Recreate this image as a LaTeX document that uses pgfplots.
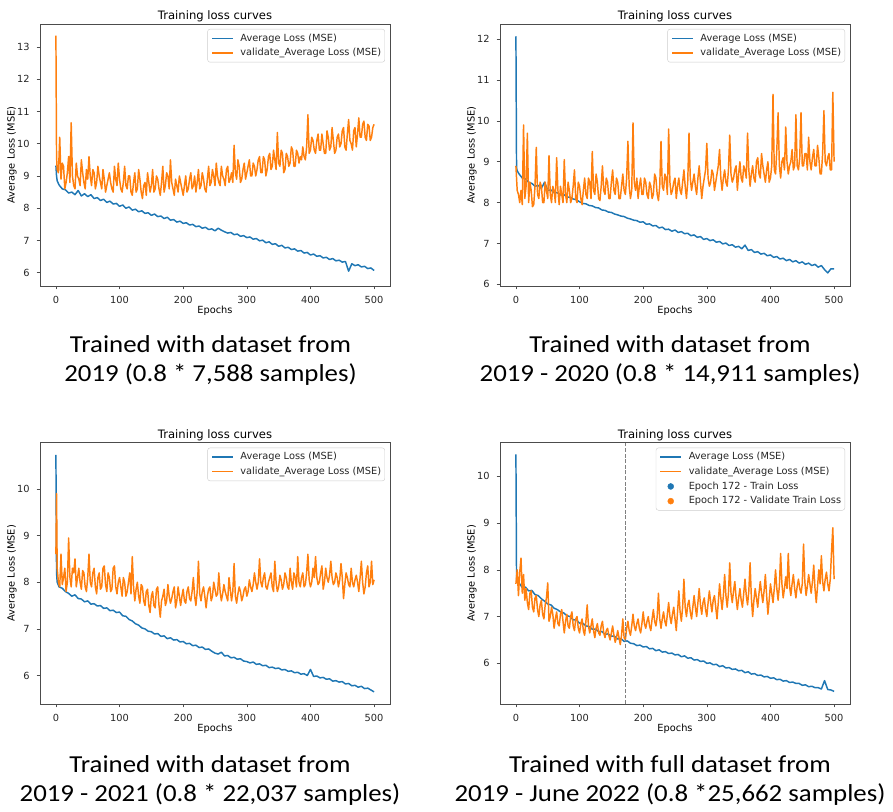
\documentclass[border=0pt]{standalone}
\usepackage{pgfplots}
\pgfplotsset{compat=1.18}
\usepackage{fontspec}
\setmainfont{DejaVu Sans}
\newfontfamily\capfont{Carlito}
\definecolor{tabblue}{HTML}{1F77B4}
\definecolor{taborange}{HTML}{FF7F0E}
\newcommand\ticksize{\fontsize{9.8}{11.8}\selectfont}
\newcommand\titlesize{\fontsize{11.6}{13.9}\selectfont}
\newcommand\capsize{\fontsize{24.4}{29}\selectfont}
\tikzset{capnode/.style={anchor=base, font=\capfont\capsize, inner sep=0pt, xscale=1.1}}
\pgfplotsset{
 lossaxis/.style={
  scale only axis, width=350pt,
  xmin=-25, xmax=525, xtick={0,100,200,300,400,500},
  axis line style={black!70, line width=0.7pt},
  tick style={black!70, line width=0.6pt},
  tick align=outside, major tick length=3.4pt,
  tick pos=left,
  tick label style={font=\ticksize, text=black!85, inner sep=0pt},
  /pgf/number format/assume math mode=true,
  xticklabel style={yshift=-6.8pt},
  yticklabel style={xshift=-6.8pt},
  every axis title/.style={at={(axis description cs:0.5,1)}, anchor=base, yshift=4.7pt, font=\titlesize, inner sep=0pt},
  xlabel style={at={(axis description cs:0.5,0)}, anchor=base, yshift=-27.3pt, font=\ticksize, inner sep=0pt},
  ylabel style={at={(axis description cs:-0.0726,0.5)}, anchor=base, font=\ticksize, inner sep=0pt},
  title={Training loss curves}, xlabel={Epochs}, ylabel={Average Loss (MSE)},
  legend cell align=left,
  legend style={at={(axis description cs:1,1)}, anchor=north east, xshift=-5pt, yshift=-5pt, draw=black!20, rounded corners=2.5pt, fill=white, font=\ticksize, text=black!85, inner xsep=3.7pt, inner ysep=4.4pt, row sep=5.2pt, column sep=7pt, nodes={inner sep=0pt, text height=7.5pt, text depth=2pt}},
  legend image code/.code={\draw[mark repeat=2, mark phase=2, ##1] plot coordinates {(0pt,0pt) (10.3pt,0pt) (20.6pt,0pt)};},
  trainline/.style={tabblue, line width=1.47pt, line join=round},
  valline/.style={taborange, line width=1.47pt, line join=round},
 },
}
\begin{document}
\begin{tikzpicture}
\useasboundingbox (0pt,0pt) rectangle (893pt,811pt);
% ---------------- Plot 1 ----------------
\begin{axis}[lossaxis, at={(40pt,525pt)}, anchor=south west, height=262pt,
  ymin=5.59, ymax=13.71, ytick={6,7,8,9,10,11,12,13}]
\addplot[trainline] coordinates {(0,9.32)(1,9.0)(2,8.85)(5,8.72)(10,8.6)(15,8.57)(20,8.47)(25,8.5)(30,8.42)(35,8.55)(40,8.38)(45,8.45)(50,8.36)(55,8.42)(60,8.3)(65,8.33)(70,8.24)(75,8.28)(80,8.18)(85,8.22)(90,8.13)(95,8.15)(100,8.06)(105,8.1)(110,8.0)(115,8.04)(120,7.94)(125,7.97)(130,7.89)(135,7.92)(140,7.84)(145,7.86)(150,7.78)(155,7.82)(160,7.74)(165,7.76)(170,7.68)(175,7.72)(180,7.63)(185,7.65)(190,7.57)(195,7.6)(200,7.53)(205,7.55)(210,7.48)(215,7.5)(220,7.43)(225,7.45)(230,7.38)(235,7.41)(240,7.34)(245,7.36)(250,7.3)(255,7.38)(260,7.32)(265,7.27)(270,7.23)(275,7.25)(280,7.18)(285,7.2)(290,7.13)(295,7.15)(300,7.09)(305,7.11)(310,7.04)(315,7.06)(320,6.99)(325,7.01)(330,6.93)(335,6.96)(340,6.88)(345,6.9)(350,6.82)(355,6.85)(360,6.77)(365,6.79)(370,6.72)(375,6.74)(380,6.67)(385,6.69)(390,6.61)(395,6.63)(400,6.55)(405,6.58)(410,6.51)(415,6.53)(420,6.46)(425,6.48)(430,6.41)(435,6.44)(440,6.37)(445,6.39)(450,6.33)(455,6.35)(460,6.05)(465,6.28)(470,6.22)(475,6.25)(480,6.18)(485,6.2)(490,6.13)(495,6.15)(500,6.07)};
\addlegendentry{Average Loss (MSE)}
\addplot[valline] coordinates {(0,13.35)(1,9.6)(2,9.2)(4,9.1)(6,10.2)(8,8.9)(10,9.4)(12,9.3)(14,8.6)(16,8.8)(18,9.1)(20,9.6)(22,8.8)(24,10.65)(26,9.0)(28,8.7)(30,8.6)(32,9.4)(34,9.0)(36,8.9)(38,8.7)(40,9.5)(42,9.1)(44,8.8)(46,8.6)(48,9.2)(50,8.9)(52,9.6)(54,9.0)(56,8.7)(58,9.2)(60,9.1)(62,8.6)(64,8.8)(66,9.3)(68,9.0)(70,8.8)(72,8.6)(74,9.2)(76,8.9)(78,8.5)(80,8.7)(82,8.9)(84,9.1)(86,8.8)(88,8.6)(90,8.5)(92,9.3)(94,8.9)(96,8.7)(98,9.4)(100,8.9)(102,8.6)(104,8.5)(106,8.8)(108,9.3)(110,8.7)(112,8.6)(114,9.0)(116,9.0)(118,8.5)(120,8.4)(122,8.8)(124,9.1)(126,8.5)(128,8.6)(130,9.2)(132,8.9)(134,8.5)(136,8.3)(138,8.7)(140,8.8)(142,8.4)(144,9.1)(146,8.8)(148,8.5)(150,8.7)(152,9.2)(154,8.5)(156,8.6)(158,9.0)(160,8.9)(162,8.6)(164,8.4)(166,8.8)(168,9.3)(170,8.5)(172,8.7)(174,9.1)(176,9.0)(178,8.6)(180,9.5)(182,8.8)(184,8.6)(186,8.4)(188,8.9)(190,8.7)(192,8.5)(194,9.0)(196,8.8)(198,8.6)(200,8.4)(202,8.7)(204,9.0)(206,8.5)(208,8.6)(210,8.9)(212,9.1)(214,8.6)(216,8.7)(218,9.0)(220,8.5)(222,8.8)(224,9.2)(226,8.6)(228,8.7)(230,9.1)(232,8.9)(234,8.6)(236,8.5)(238,8.9)(240,9.3)(242,8.7)(244,8.8)(246,9.2)(248,9.0)(250,8.7)(252,9.4)(254,9.0)(256,8.8)(258,8.7)(260,9.3)(262,9.0)(264,8.9)(266,8.7)(268,9.2)(270,9.3)(272,8.8)(274,8.9)(276,9.1)(278,8.8)(280,9.95)(282,9.1)(284,8.9)(286,9.5)(288,9.3)(290,8.8)(292,8.9)(294,9.2)(296,9.4)(298,8.9)(300,9.1)(302,9.3)(304,9.5)(306,9.0)(308,9.0)(310,9.4)(312,9.3)(314,9.0)(316,9.2)(318,9.5)(320,9.6)(322,9.1)(324,9.1)(326,9.6)(328,9.5)(330,9.0)(332,9.2)(334,9.6)(336,9.7)(338,9.2)(340,9.3)(342,9.8)(344,9.5)(346,9.2)(348,10.35)(350,9.4)(352,9.3)(354,9.8)(356,9.7)(358,9.1)(360,9.2)(362,9.7)(364,9.6)(366,9.3)(368,9.4)(370,9.9)(372,9.8)(374,9.3)(376,9.3)(378,9.8)(380,9.7)(382,9.4)(384,9.6)(386,9.5)(388,9.9)(390,9.6)(392,9.5)(394,9.9)(396,10.9)(398,9.7)(400,9.8)(402,10.2)(404,10.1)(406,9.8)(408,9.7)(410,10.1)(412,10.3)(414,9.8)(416,9.8)(418,10.3)(420,10.0)(422,9.7)(424,9.7)(426,10.4)(428,10.2)(430,9.8)(432,9.9)(434,10.5)(436,10.1)(438,9.7)(440,9.8)(442,10.2)(444,10.3)(446,9.9)(448,10.0)(450,10.4)(452,10.5)(454,9.9)(456,9.8)(458,10.3)(460,10.75)(462,10.1)(464,10.0)(466,9.8)(468,10.4)(470,10.5)(472,9.9)(474,10.3)(476,10.8)(478,10.2)(480,10.2)(482,10.6)(484,10.7)(486,10.2)(488,10.1)(490,10.6)(492,10.55)(494,10.1)(496,10.2)(498,10.5)(500,10.6)};
\addlegendentry{validate\_Average Loss (MSE)}
\end{axis}
% ---------------- Plot 2 ----------------
\begin{axis}[lossaxis, at={(500pt,525pt)}, anchor=south west, height=262pt,
  ymin=5.96, ymax=12.37, ytick={6,7,8,9,10,11,12}]
\addplot[trainline] coordinates {(0,12.07)(1,8.85)(2,8.78)(5,8.7)(10,8.6)(15,8.58)(20,8.5)(25,8.47)(30,8.4)(35,8.42)(40,8.35)(45,8.5)(50,8.3)(55,8.31)(60,8.25)(65,8.24)(70,8.19)(75,8.2)(80,8.14)(85,8.13)(90,8.09)(95,8.07)(100,8.02)(105,7.98)(110,7.97)(115,7.93)(120,7.92)(125,7.88)(130,7.87)(135,7.82)(140,7.81)(145,7.77)(150,7.76)(155,7.72)(160,7.7)(165,7.67)(170,7.66)(175,7.62)(180,7.6)(185,7.57)(190,7.56)(195,7.52)(200,7.53)(205,7.47)(210,7.48)(215,7.43)(220,7.44)(225,7.38)(230,7.4)(235,7.34)(240,7.35)(245,7.3)(250,7.33)(255,7.27)(260,7.29)(265,7.24)(270,7.25)(275,7.19)(280,7.21)(285,7.15)(290,7.17)(295,7.1)(300,7.12)(305,7.07)(310,7.09)(315,7.03)(320,7.05)(325,6.99)(330,7.01)(335,6.95)(340,6.97)(345,6.91)(350,6.93)(355,6.87)(360,6.96)(365,6.83)(370,6.85)(375,6.78)(380,6.8)(385,6.74)(390,6.76)(395,6.7)(400,6.72)(405,6.66)(410,6.68)(415,6.62)(420,6.64)(425,6.58)(430,6.61)(435,6.55)(440,6.58)(445,6.52)(450,6.55)(455,6.49)(460,6.52)(465,6.46)(470,6.49)(475,6.42)(480,6.46)(485,6.36)(490,6.28)(495,6.38)(500,6.38)};
\addlegendentry{Average Loss (MSE)}
\addplot[valline] coordinates {(0,8.9)(1,8.6)(2,8.3)(4,8.2)(6,8.0)(8,8.3)(10,7.95)(12,9.9)(14,8.1)(16,8.4)(18,9.7)(20,8.0)(22,8.5)(24,8.3)(26,7.9)(28,7.95)(30,8.4)(32,9.35)(34,8.2)(36,8.1)(38,8.5)(40,8.4)(42,8.0)(44,8.0)(46,8.5)(48,8.3)(50,8.1)(52,9.15)(54,8.2)(56,8.0)(58,8.4)(60,8.3)(62,8.0)(64,9.1)(66,8.3)(68,7.95)(70,8.4)(72,8.2)(74,8.0)(76,9.05)(78,8.2)(80,8.0)(82,8.5)(84,8.3)(86,8.0)(88,8.1)(90,8.4)(92,8.8)(94,8.1)(96,8.0)(98,8.5)(100,8.4)(102,8.1)(104,7.95)(106,8.3)(108,8.6)(110,8.2)(112,8.1)(114,8.6)(116,8.5)(118,8.1)(120,9.25)(122,8.3)(124,8.2)(126,8.7)(128,8.5)(130,8.1)(132,8.05)(134,8.4)(136,8.9)(138,8.3)(140,8.2)(142,8.6)(144,8.5)(146,8.1)(148,8.1)(150,8.5)(152,8.8)(154,8.3)(156,8.2)(158,8.6)(160,8.5)(162,8.1)(164,8.1)(166,8.4)(168,8.7)(170,8.3)(172,8.2)(174,8.6)(176,9.5)(178,8.4)(180,8.1)(182,8.3)(184,9.95)(186,8.5)(188,8.3)(190,8.6)(192,8.1)(194,8.4)(196,8.6)(198,8.2)(200,8.2)(202,8.6)(204,8.5)(206,8.2)(208,8.1)(210,8.5)(212,8.4)(214,8.1)(216,8.2)(218,8.7)(220,8.6)(222,8.2)(224,8.05)(226,8.4)(228,9.5)(230,8.4)(232,8.3)(234,8.7)(236,8.6)(238,8.2)(240,9.8)(242,8.5)(244,8.2)(246,8.3)(248,8.5)(250,8.6)(252,8.1)(254,8.4)(256,8.6)(258,8.3)(260,8.2)(262,8.5)(264,8.8)(266,8.4)(268,8.1)(270,8.5)(272,9.7)(274,8.6)(276,8.3)(278,8.5)(280,8.7)(282,8.4)(284,8.2)(286,8.6)(288,8.9)(290,8.5)(292,8.1)(294,8.4)(296,8.6)(298,8.8)(300,9.45)(302,8.6)(304,8.4)(306,8.5)(308,8.8)(310,8.7)(312,8.3)(314,8.5)(316,8.7)(318,8.9)(320,9.3)(322,8.6)(324,8.3)(326,8.6)(328,8.8)(330,8.5)(332,8.4)(334,8.8)(336,9.65)(338,8.7)(340,8.5)(342,8.6)(344,8.8)(346,8.9)(348,8.3)(350,8.7)(352,9.0)(354,8.6)(356,8.5)(358,8.9)(360,8.8)(362,8.6)(364,9.7)(366,8.8)(368,8.4)(370,8.7)(372,8.9)(374,8.6)(376,8.5)(378,9.0)(380,9.1)(382,8.7)(384,8.6)(386,9.2)(388,8.9)(390,8.7)(392,8.5)(394,8.8)(396,9.0)(398,8.5)(400,8.6)(402,8.9)(404,10.65)(406,8.8)(408,8.7)(410,9.3)(412,10.2)(414,8.9)(416,8.6)(418,9.0)(420,9.1)(422,8.8)(424,9.85)(426,9.0)(428,8.7)(430,8.9)(432,9.0)(434,9.3)(436,8.8)(438,8.9)(440,10.15)(442,8.9)(444,8.8)(446,9.1)(448,10.2)(450,8.9)(452,8.9)(454,9.2)(456,9.2)(458,8.8)(460,9.6)(462,9.0)(464,8.8)(466,9.1)(468,9.3)(470,8.9)(472,8.9)(474,9.4)(476,9.1)(478,8.7)(480,8.7)(482,9.2)(484,10.25)(486,9.0)(488,8.9)(490,9.1)(492,9.2)(494,8.8)(496,8.8)(498,10.7)(500,9.0)};
\addlegendentry{validate\_Average Loss (MSE)}
\end{axis}
% ---------------- Plot 3 ----------------
\begin{axis}[lossaxis, at={(40pt,107pt)}, anchor=south west, height=261.3pt,
  ymin=5.39, ymax=10.99, ytick={6,7,8,9,10}]
\addplot[trainline] coordinates {(0,10.73)(1,8.2)(2,8.0)(5,7.9)(10,7.87)(15,7.8)(20,7.76)(25,7.7)(30,7.73)(35,7.65)(40,7.64)(45,7.58)(50,7.6)(55,7.53)(60,7.54)(65,7.49)(70,7.5)(75,7.44)(80,7.45)(85,7.39)(90,7.4)(95,7.35)(100,7.36)(105,7.28)(110,7.27)(115,7.2)(120,7.17)(125,7.11)(130,7.08)(135,7.02)(140,7.0)(145,6.95)(150,6.94)(155,6.89)(160,6.9)(165,6.84)(170,6.85)(175,6.79)(180,6.81)(185,6.76)(190,6.77)(195,6.72)(200,6.73)(205,6.68)(210,6.69)(215,6.64)(220,6.65)(225,6.6)(230,6.61)(235,6.56)(240,6.57)(245,6.52)(250,6.48)(255,6.46)(260,6.5)(265,6.42)(270,6.43)(275,6.38)(280,6.39)(285,6.35)(290,6.36)(295,6.31)(300,6.3)(305,6.27)(310,6.29)(315,6.24)(320,6.25)(325,6.21)(330,6.22)(335,6.17)(340,6.18)(345,6.15)(350,6.16)(355,6.12)(360,6.13)(365,6.09)(370,6.1)(375,6.06)(380,6.07)(385,6.03)(390,6.04)(395,6.0)(400,6.13)(405,5.98)(410,5.99)(415,5.95)(420,5.96)(425,5.92)(430,5.93)(435,5.88)(440,5.89)(445,5.86)(450,5.87)(455,5.82)(460,5.83)(465,5.78)(470,5.79)(475,5.75)(480,5.77)(485,5.72)(490,5.73)(495,5.69)(500,5.65)};
\addlegendentry{Average Loss (MSE)}
\addplot[valline] coordinates {(0,8.6)(1,9.9)(2,8.3)(4,8.0)(6,7.9)(8,8.6)(10,7.95)(12,8.1)(14,8.3)(16,7.8)(18,8.0)(20,8.95)(22,8.1)(24,7.9)(26,8.3)(28,8.2)(30,8.5)(32,7.9)(34,8.1)(36,8.3)(38,8.0)(40,7.85)(42,8.25)(44,8.2)(46,7.9)(48,7.8)(50,8.1)(52,8.6)(54,8.0)(56,7.9)(58,8.2)(60,8.3)(62,7.9)(64,7.75)(66,8.1)(68,8.2)(70,7.85)(72,7.9)(74,8.3)(76,8.35)(78,7.95)(80,7.8)(82,8.2)(84,8.1)(86,7.8)(88,7.85)(90,8.3)(92,8.35)(94,7.9)(96,7.75)(98,8.0)(100,8.1)(102,7.9)(104,7.7)(106,8.1)(108,8.0)(110,7.7)(112,7.8)(114,8.0)(116,8.2)(118,7.75)(120,8.55)(122,7.9)(124,7.6)(126,7.85)(128,8.0)(130,7.7)(132,7.55)(134,7.95)(136,7.9)(138,7.6)(140,7.5)(142,7.8)(144,7.85)(146,7.5)(148,7.35)(150,7.7)(152,7.8)(154,7.5)(156,7.45)(158,7.85)(160,7.9)(162,7.5)(164,7.25)(166,7.6)(168,7.7)(170,7.85)(172,7.5)(174,7.6)(176,7.95)(178,7.7)(180,7.55)(182,7.65)(184,7.8)(186,7.9)(188,7.45)(190,7.6)(192,7.9)(194,7.7)(196,7.5)(198,7.7)(200,7.85)(202,7.6)(204,7.55)(206,7.8)(208,7.9)(210,7.65)(212,7.6)(214,7.8)(216,8.1)(218,7.7)(220,7.5)(222,7.8)(224,8.45)(226,7.75)(228,7.6)(230,7.8)(232,7.9)(234,7.7)(236,7.45)(238,7.7)(240,7.85)(242,7.9)(244,7.6)(246,7.7)(248,8.0)(250,7.85)(252,7.7)(254,7.75)(256,8.2)(258,7.8)(260,7.6)(262,7.75)(264,7.95)(266,7.8)(268,7.7)(270,7.6)(272,8.1)(274,7.85)(276,7.6)(278,7.8)(280,8.4)(282,7.7)(284,7.55)(286,7.75)(288,7.9)(290,7.8)(292,7.6)(294,7.7)(296,7.85)(298,7.9)(300,7.7)(302,7.8)(304,8.05)(306,7.9)(308,7.8)(310,7.95)(312,8.2)(314,8.0)(316,7.85)(318,8.0)(320,8.5)(322,8.0)(324,7.9)(326,8.1)(328,8.2)(330,7.9)(332,7.85)(334,8.0)(336,8.1)(338,8.2)(340,7.9)(342,7.8)(344,8.45)(346,8.0)(348,7.8)(350,7.9)(352,8.15)(354,8.05)(356,7.85)(358,7.95)(360,8.2)(362,8.1)(364,7.9)(366,7.85)(368,8.3)(370,8.0)(372,7.85)(374,8.2)(376,8.1)(378,7.9)(380,8.55)(382,8.0)(384,7.9)(386,8.1)(388,8.2)(390,7.9)(392,7.95)(394,8.2)(396,8.6)(398,8.05)(400,7.9)(402,8.0)(404,8.3)(406,8.1)(408,8.55)(410,8.1)(412,7.95)(414,8.0)(416,8.2)(418,8.35)(420,7.85)(422,8.0)(424,8.3)(426,8.1)(428,8.0)(430,8.15)(432,8.45)(434,8.1)(436,7.95)(438,8.0)(440,8.2)(442,8.1)(444,7.9)(446,8.05)(448,8.4)(450,8.1)(452,7.65)(454,7.95)(456,8.2)(458,8.1)(460,7.95)(462,7.9)(464,8.3)(466,8.0)(468,7.9)(470,8.05)(472,8.15)(474,8.0)(476,7.8)(478,8.1)(480,8.45)(482,8.0)(484,7.75)(486,7.9)(488,8.2)(490,8.35)(492,7.9)(494,8.0)(496,8.45)(498,7.95)(500,8.05)};
\addlegendentry{validate\_Average Loss (MSE)}
\end{axis}
% ---------------- Plot 4 ----------------
\begin{axis}[lossaxis, at={(500pt,107pt)}, anchor=south west, height=261.3pt,
  ymin=5.13, ymax=10.72, ytick={6,7,8,9,10}]
\addplot[trainline] coordinates {(0,10.47)(1,7.8)(2,7.75)(5,7.72)(10,7.62)(15,7.63)(20,7.55)(25,7.56)(30,7.47)(35,7.45)(40,7.38)(45,7.33)(50,7.27)(55,7.25)(60,7.18)(65,7.15)(70,7.1)(75,7.08)(80,7.02)(85,7.0)(90,6.93)(95,6.93)(100,6.86)(105,6.86)(110,6.8)(115,6.79)(120,6.73)(125,6.73)(130,6.68)(135,6.68)(140,6.62)(145,6.63)(150,6.58)(155,6.58)(160,6.52)(165,6.53)(170,6.47)(175,6.48)(180,6.43)(185,6.42)(190,6.38)(195,6.39)(200,6.35)(205,6.36)(210,6.31)(215,6.32)(220,6.27)(225,6.29)(230,6.24)(235,6.25)(240,6.21)(245,6.22)(250,6.18)(255,6.19)(260,6.14)(265,6.16)(270,6.11)(275,6.12)(280,6.07)(285,6.08)(290,6.04)(295,6.05)(300,6.0)(305,6.01)(310,5.97)(315,5.98)(320,5.93)(325,5.95)(330,5.9)(335,5.91)(340,5.87)(345,5.88)(350,5.84)(355,5.85)(360,5.8)(365,5.82)(370,5.77)(375,5.78)(380,5.74)(385,5.75)(390,5.71)(395,5.72)(400,5.68)(405,5.69)(410,5.65)(415,5.66)(420,5.62)(425,5.63)(430,5.59)(435,5.6)(440,5.57)(445,5.57)(450,5.53)(455,5.54)(460,5.5)(465,5.51)(470,5.48)(475,5.48)(480,5.45)(485,5.63)(490,5.44)(495,5.43)(500,5.4)};
\addlegendentry{Average Loss (MSE)}
\addplot[valline] coordinates {(0,7.7)(2,8.0)(4,7.45)(6,7.95)(8,8.25)(10,7.5)(12,7.9)(14,7.35)(16,7.6)(18,7.3)(20,7.15)(22,7.5)(24,7.55)(26,7.2)(28,7.1)(30,7.4)(32,7.45)(34,7.15)(36,7.0)(38,7.25)(40,7.35)(42,7.05)(44,6.95)(46,7.25)(48,7.4)(50,7.72)(52,6.9)(54,7.0)(56,7.2)(58,7.05)(60,6.75)(62,6.95)(64,7.1)(66,6.85)(68,6.8)(70,7.05)(72,7.15)(74,6.9)(76,6.65)(78,6.9)(80,7.05)(82,6.8)(84,6.75)(86,7.0)(88,7.1)(90,6.8)(92,6.7)(94,6.95)(96,7.0)(98,6.75)(100,6.65)(102,6.85)(104,6.95)(106,6.7)(108,6.6)(110,6.9)(112,7.25)(114,6.8)(116,6.65)(118,6.8)(120,6.95)(122,6.7)(124,6.55)(126,6.75)(128,6.85)(130,6.65)(132,6.6)(134,6.8)(136,6.9)(138,6.65)(140,6.55)(142,6.7)(144,6.75)(146,6.6)(148,6.5)(150,6.65)(152,6.8)(154,6.6)(156,6.45)(158,6.55)(160,6.7)(162,6.55)(164,6.4)(166,6.6)(168,6.95)(170,6.55)(172,6.5)(174,6.75)(176,6.9)(178,6.7)(180,6.6)(182,6.8)(184,7.05)(186,6.8)(188,6.7)(190,6.85)(192,6.95)(194,6.75)(196,6.65)(198,6.85)(200,7.1)(202,6.85)(204,6.75)(206,6.9)(208,7.0)(210,6.8)(212,6.7)(214,6.95)(216,7.15)(218,6.9)(220,6.8)(222,7.0)(224,7.5)(226,6.95)(228,6.75)(230,6.95)(232,7.1)(234,6.9)(236,6.8)(238,7.05)(240,7.3)(242,7.0)(244,6.85)(246,7.05)(248,7.2)(250,6.95)(252,6.7)(254,7.1)(256,7.55)(258,7.1)(260,6.9)(262,7.2)(264,7.8)(266,7.2)(268,7.0)(270,7.25)(272,7.35)(274,7.1)(276,6.95)(278,7.2)(280,7.45)(282,7.2)(284,7.0)(286,7.3)(288,7.6)(290,7.25)(292,7.05)(294,7.3)(296,7.4)(298,7.15)(300,7.0)(302,7.3)(304,7.55)(306,7.3)(308,7.1)(310,7.35)(312,7.45)(314,7.2)(316,6.95)(318,7.3)(320,7.7)(322,7.4)(324,7.15)(326,7.45)(328,7.9)(330,7.45)(332,7.2)(334,7.5)(336,8.15)(338,7.5)(340,7.3)(342,7.55)(344,7.75)(346,7.4)(348,7.15)(350,7.4)(352,7.6)(354,7.35)(356,7.2)(358,7.5)(360,7.8)(362,7.45)(364,7.25)(366,7.55)(368,8.15)(370,7.4)(372,7.0)(374,7.35)(376,7.6)(378,7.4)(380,7.2)(382,7.5)(384,7.75)(386,7.5)(388,7.3)(390,7.55)(392,7.9)(394,7.45)(396,7.05)(398,7.35)(400,7.7)(402,7.5)(404,7.3)(406,7.6)(408,8.0)(410,7.6)(412,7.35)(414,7.65)(416,8.35)(418,7.7)(420,7.4)(422,7.6)(424,7.85)(426,7.6)(428,8.35)(430,7.65)(432,7.45)(434,7.7)(436,7.9)(438,7.6)(440,7.4)(442,7.65)(444,7.8)(446,7.6)(448,7.5)(450,7.7)(452,8.55)(454,7.75)(456,7.45)(458,7.65)(460,7.9)(462,7.7)(464,7.5)(466,7.75)(468,8.1)(470,7.6)(472,7.3)(474,7.65)(476,8.0)(478,7.7)(480,8.3)(482,7.75)(484,7.55)(486,7.8)(488,7.95)(490,7.7)(492,7.55)(494,7.8)(496,8.4)(498,8.9)(500,7.8)};
\addlegendentry{validate\_Average Loss (MSE)}
\addplot[forget plot, gray, line width=1.05pt, dash pattern=on 3.9pt off 1.7pt] coordinates {(172,5.13)(172,10.72)};
\addlegendimage{only marks, mark=*, mark size=3pt, tabblue, mark options={draw=none, fill=tabblue}}
\addlegendentry{Epoch 172 - Train Loss}
\addlegendimage{only marks, mark=*, mark size=3pt, taborange, mark options={draw=none, fill=taborange}}
\addlegendentry{Epoch 172 - Validate Train Loss}
\end{axis}
% ---------------- Captions ----------------
\node[capnode] at (210.5pt,458.5pt) {Trained with dataset from};
\node[capnode] at (210.5pt,429pt) {2019 (0.8 * 7,588 samples)};
\node[capnode] at (670pt,458.5pt) {Trained with dataset from};
\node[capnode] at (670pt,429pt) {2019 - 2020 (0.8 * 14,911 samples)};
\node[capnode] at (210pt,39pt) {Trained with dataset from};
\node[capnode] at (210pt,9.5pt) {2019 - 2021 (0.8 * 22,037 samples)};
\node[capnode] at (670pt,39pt) {Trained with full dataset from};
\node[capnode] at (670pt,9.5pt) {2019 - June 2022 (0.8 *25,662 samples)};
\end{tikzpicture}
\end{document}
